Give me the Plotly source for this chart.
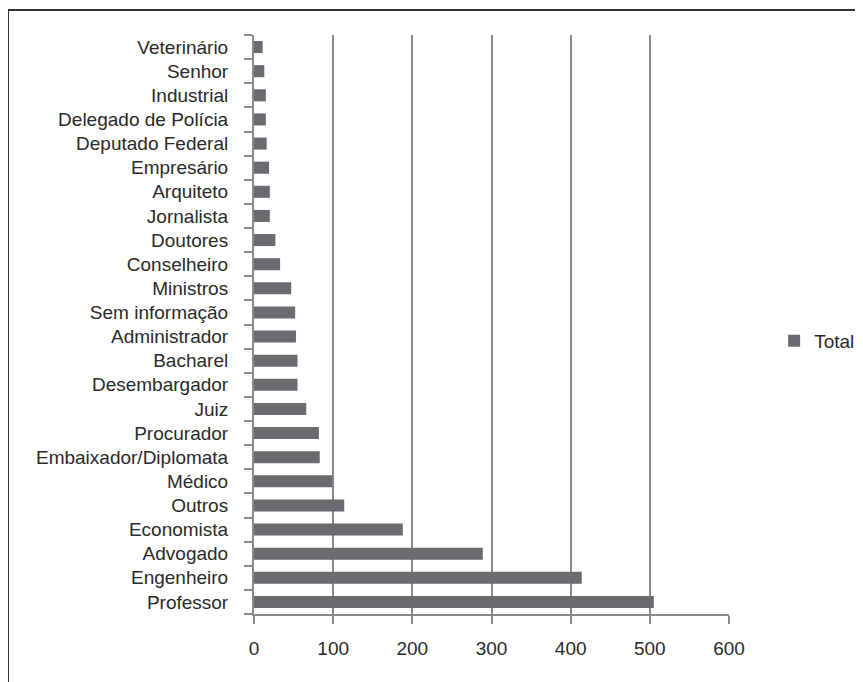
import plotly.graph_objects as go

categories = ["Professor", "Engenheiro", "Advogado", "Economista", "Outros", "Médico",
              "Embaixador/Diplomata", "Procurador", "Juiz", "Desembargador", "Bacharel",
              "Administrador", "Sem informação", "Ministros", "Conselheiro", "Doutores",
              "Jornalista", "Arquiteto", "Empresário", "Deputado Federal",
              "Delegado de Polícia", "Industrial", "Senhor", "Veterinário"]
values = [505, 414, 289, 188, 114, 99, 83, 82, 66, 55, 55, 53, 52, 47, 33, 27,
          20, 20, 19, 16, 15, 15, 13, 11]
x_ticks = [0, 100, 200, 300, 400, 500, 600]

FONT = "Liberation Sans, Arial, sans-serif"
GRID = "#8a8a8e"
BAR = "#6a6b6e"
TXT = "#2a2a2a"

fig = go.Figure()
fig.add_trace(go.Bar(
    y=categories, x=values, orientation="h", name="Total",
    marker=dict(color=BAR, line=dict(width=0)),
))

fig.update_layout(
    width=863, height=682,
    margin=dict(l=246, r=142, t=27, b=76, autoexpand=False),
    paper_bgcolor="white", plot_bgcolor="white",
    font=dict(family=FONT, size=19, color=TXT),
    bargap=0.5,
    showlegend=True,
    legend=dict(x=1.095, y=0.4715, xanchor="left", yanchor="middle",
                font=dict(size=19, family=FONT, color=TXT),
                bgcolor="rgba(0,0,0,0)", itemwidth=30),
    xaxis=dict(range=[0, 600], tickmode="array", tickvals=x_ticks,
               showgrid=True, gridcolor=GRID, gridwidth=2,
               showline=True, linecolor=GRID, linewidth=2,
               ticks="outside", ticklen=8, tickwidth=2, tickcolor=GRID,
               zeroline=False, ticklabelstandoff=8, automargin=False,
               fixedrange=True),
    yaxis=dict(type="category", categoryorder="array", categoryarray=categories,
               tickmode="array", tickvals=categories,
               range=[-0.5, len(categories) - 0.5],
               showline=True, linecolor=GRID, linewidth=2, showgrid=False,
               ticks="outside", ticklen=8, tickwidth=2, tickcolor=GRID,
               tickson="boundaries", ticklabelstandoff=20, automargin=False,
               fixedrange=True),
    shapes=[dict(type="rect", xref="paper", yref="paper",
                 x0=-0.5179, x1=2.0, y0=-0.5, y1=1.0432,
                 line=dict(color="#333333", width=2), fillcolor="rgba(0,0,0,0)",
                 layer="below")],
)

fig.write_html("out.html")
